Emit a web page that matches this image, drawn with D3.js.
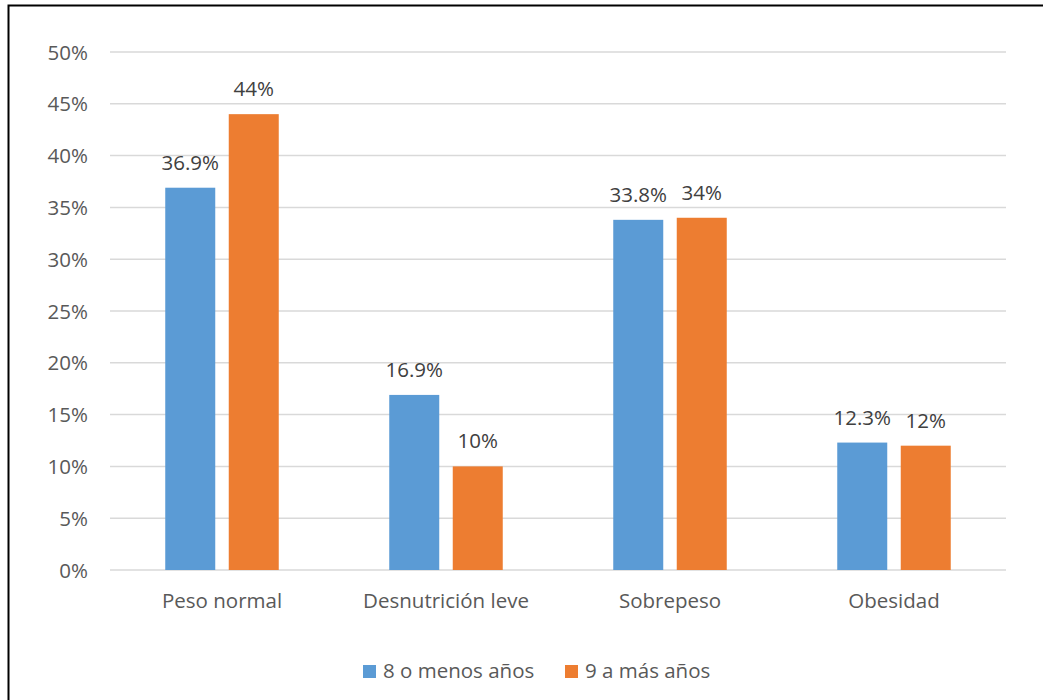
<!DOCTYPE html>
<html>
<head>
<meta charset="utf-8">
<script src="https://cdn.jsdelivr.net/npm/d3@7/dist/d3.min.js"></script>
<style>
  html, body { margin: 0; padding: 0; background: #fff; }
  svg { display: block; font-family: "Open Sans", "Noto Sans", sans-serif; }
</style>
</head>
<body>
<svg id="chart" width="1043" height="700"></svg>
<script>
// Nutritional status by age group (percent of children)
const categories = ["Peso normal", "Desnutrición leve", "Sobrepeso", "Obesidad"];
const seriesNames = ["8 o menos años", "9 a más años"];
const youngerValues = [36.9, 16.9, 33.8, 12.3];
const olderValues = [44, 10, 34, 12];
const valueLabels = [["36.9%", "16.9%", "33.8%", "12.3%"], ["44%", "10%", "34%", "12%"]];
const yTicks = [0, 5, 10, 15, 20, 25, 30, 35, 40, 45, 50];
const colors = ["#5B9BD5", "#ED7D31"];

const svg = d3.select("#chart");
const plot = { left: 110, right: 1006, top: 52, bottom: 570 };
const fontSize = 20.5;

// Outer frame (open to the right and bottom edges of the canvas)
svg.append("rect")
  .attr("x", 8.5).attr("y", 5.5)
  .attr("width", 1100).attr("height", 800)
  .attr("fill", "none").attr("stroke", "#000").attr("stroke-width", 2);

const x = d3.scaleBand().domain(categories).range([plot.left, plot.right]);
const y = d3.scaleLinear().domain([0, 50]).range([plot.bottom, plot.top]);

// Horizontal gridlines
svg.append("g").selectAll("line").data(yTicks).join("line")
  .attr("x1", plot.left).attr("x2", plot.right)
  .attr("y1", d => y(d)).attr("y2", d => y(d))
  .attr("stroke", "#d9d9d9").attr("stroke-width", 1.5);

// Y axis labels
const yAxis = d3.axisLeft(y).tickValues(yTicks).tickFormat(d => d + "%").tickSize(0).tickPadding(0);
const yg = svg.append("g").attr("transform", `translate(${plot.left - 22},0)`).call(yAxis);
yg.select(".domain").remove();
yg.selectAll("text").attr("font-size", fontSize).attr("fill", "#595959")
  .style("font-family", "'Open Sans', sans-serif").attr("dy", "0.35em");

// X axis labels
const xAxis = d3.axisBottom(x).tickSize(0).tickPadding(0);
const xg = svg.append("g").attr("transform", `translate(0,${plot.bottom + 31})`).call(xAxis);
xg.select(".domain").remove();
xg.selectAll("text").attr("font-size", fontSize).attr("fill", "#595959")
  .style("font-family", "'Open Sans', sans-serif").attr("dy", "0.35em");

// Bars within each category band
const barW = 50, barGap = 13.5;
const inner = d3.scaleOrdinal().domain([0, 1])
  .range([x.bandwidth() / 2 - barW - barGap / 2, x.bandwidth() / 2 + barGap / 2]);

const series = [youngerValues, olderValues];
series.forEach((vals, si) => {
  const g = svg.append("g");
  g.selectAll("rect").data(vals).join("rect")
    .attr("x", (d, i) => x(categories[i]) + inner(si))
    .attr("y", d => y(d))
    .attr("width", barW)
    .attr("height", d => y(0) - y(d))
    .attr("fill", colors[si]);
  g.selectAll("text").data(vals).join("text")
    .attr("x", (d, i) => x(categories[i]) + inner(si) + barW / 2)
    .attr("y", d => y(d) - 18)
    .attr("text-anchor", "middle")
    .attr("font-size", fontSize).attr("fill", "#404040")
    .text((d, i) => valueLabels[si][i]);
});

// Legend
const legendX = [363, 565];
const legend = svg.append("g");
seriesNames.forEach((name, i) => {
  legend.append("rect").attr("x", legendX[i]).attr("y", 665).attr("width", 13).attr("height", 13).attr("fill", colors[i]);
  legend.append("text").attr("x", legendX[i] + 20).attr("y", 671).attr("dy", "0.35em")
    .attr("font-size", fontSize).attr("fill", "#595959").text(name);
});
</script>
</body>
</html>
